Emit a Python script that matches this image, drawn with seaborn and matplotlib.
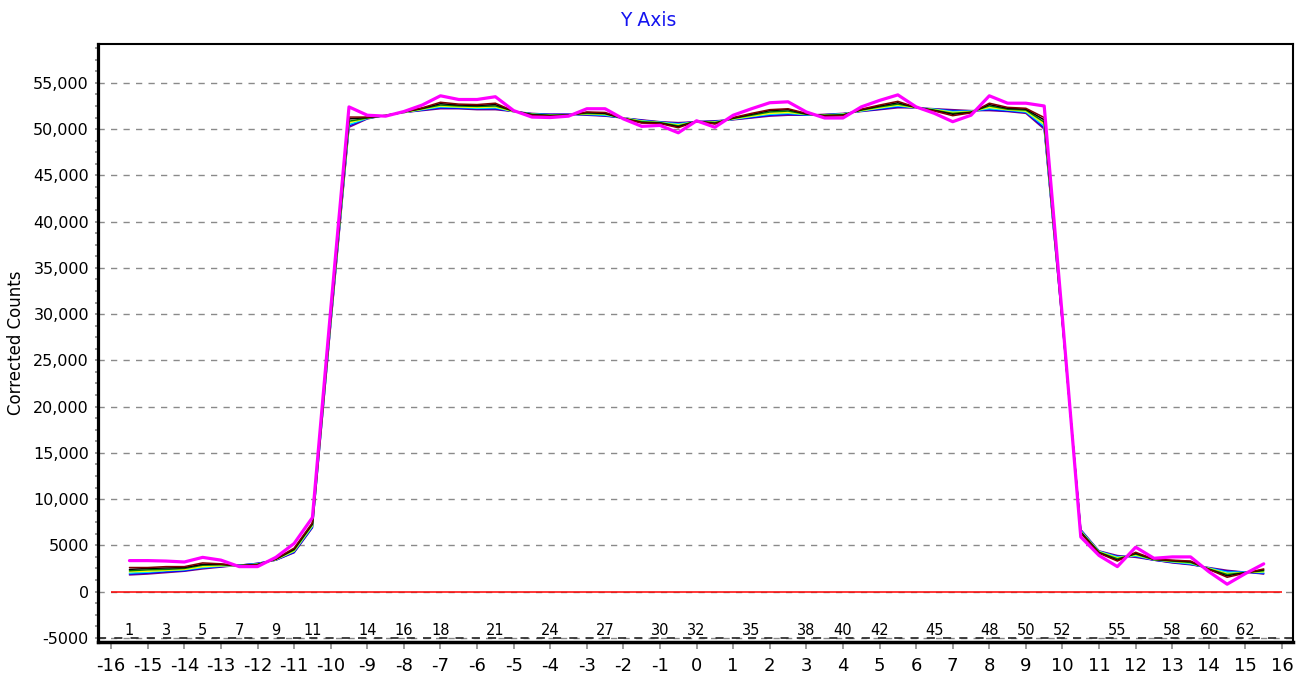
import numpy as np
import pandas as pd
import matplotlib
matplotlib.use("Agg")
import matplotlib.pyplot as plt
import matplotlib.transforms as mtransforms
from matplotlib.ticker import FuncFormatter, MultipleLocator, FixedLocator
import seaborn as sns

# ---------------- data ----------------
channels = list(range(1, 64))
channel_labels = [1, 3, 5, 7, 9, 11, 14, 16, 18, 21, 24, 27, 30, 32, 35, 38,
                  40, 42, 45, 48, 50, 52, 55, 58, 60, 62]
x_ticks = list(range(-16, 17))

purple = [1800, 1900, 2050, 2200, 2450, 2650, 2850, 3050, 3400, 4200,
          6900, 28800, 50200, 51100, 51500, 51800, 52000, 52200, 52200, 52100,
          52100, 51900, 51700, 51600, 51600, 51500, 51400, 51200, 51000, 50800,
          50700, 50800, 50900, 51000, 51200, 51400, 51500, 51500, 51600, 51700,
          51900, 52100, 52300, 52300, 52200, 52100, 52000, 52000, 51900, 51700,
          50000, 28800, 6700, 4400, 3900, 3700, 3400, 3100, 2900, 2600,
          2300, 2100, 1900]
blue = [1900, 2000, 2150, 2250, 2550, 2700, 2850, 3050, 3400, 4250,
        6950, 28900, 50350, 51150, 51500, 51800, 52050, 52300, 52250, 52200,
        52200, 51900, 51650, 51600, 51600, 51550, 51450, 51200, 50950, 50750,
        50600, 50800, 50850, 51050, 51250, 51500, 51600, 51500, 51550, 51650,
        51950, 52150, 52400, 52300, 52150, 52000, 51950, 52100, 51950, 51800,
        50150, 28850, 6650, 4350, 3800, 3800, 3400, 3150, 2950, 2550,
        2200, 2100, 1950]
cyan = [2000, 2100, 2250, 2350, 2600, 2750, 2850, 3000, 3450, 4350,
        7050, 29050, 50500, 51150, 51500, 51800, 52100, 52400, 52350, 52250,
        52300, 51900, 51650, 51550, 51550, 51600, 51500, 51200, 50900, 50750,
        50550, 50800, 50800, 51050, 51350, 51600, 51700, 51550, 51550, 51650,
        51950, 52250, 52500, 52300, 52150, 51900, 51950, 52200, 52050, 51850,
        50350, 28900, 6600, 4350, 3750, 3850, 3450, 3200, 3000, 2550,
        2100, 2100, 2050]
yellow = [2150, 2200, 2300, 2400, 2700, 2800, 2800, 2950, 3450, 4400,
          7150, 29150, 50700, 51200, 51500, 51800, 52150, 52500, 52400, 52350,
          52400, 51900, 51600, 51500, 51550, 51650, 51600, 51200, 50850, 50700,
          50450, 50800, 50750, 51100, 51400, 51700, 51800, 51600, 51500, 51600,
          52000, 52300, 52600, 52300, 52100, 51800, 51900, 52350, 52100, 51950,
          50550, 28950, 6500, 4300, 3650, 3950, 3450, 3250, 3100, 2500,
          1950, 2050, 2150]
green = [2250, 2350, 2400, 2500, 2850, 2900, 2800, 2950, 3500, 4500,
         7250, 29300, 50850, 51200, 51450, 51850, 52200, 52600, 52500, 52450,
         52500, 51950, 51600, 51500, 51550, 51700, 51650, 51150, 50800, 50700,
         50350, 50850, 50700, 51150, 51500, 51850, 51950, 51600, 51500, 51550,
         52050, 52400, 52700, 52350, 52050, 51700, 51850, 52500, 52150, 52050,
         50750, 29000, 6450, 4250, 3550, 4050, 3450, 3300, 3150, 2450,
         1850, 2050, 2250]
black = [2400, 2500, 2550, 2600, 2950, 2950, 2800, 2900, 3500, 4600,
         7350, 29500, 51100, 51250, 51450, 51850, 52250, 52750, 52600, 52550,
         52650, 51950, 51550, 51450, 51500, 51800, 51700, 51150, 50700, 50650,
         50250, 50850, 50600, 51200, 51600, 52000, 52100, 51650, 51450, 51500,
         52100, 52500, 52850, 52350, 52000, 51600, 51800, 52650, 52250, 52150,
         51000, 29100, 6400, 4200, 3400, 4150, 3500, 3350, 3250, 2400,
         1700, 2050, 2350]
maroon = [2600, 2600, 2700, 2700, 3100, 3000, 2800, 2900, 3550, 4700,
          7450, 29650, 51300, 51300, 51450, 51850, 52300, 52900, 52700, 52650,
          52800, 51950, 51500, 51400, 51500, 51850, 51800, 51150, 50650, 50600,
          50150, 50850, 50550, 51250, 51700, 52100, 52200, 51700, 51400, 51450,
          52150, 52600, 53000, 52350, 51950, 51450, 51750, 52800, 52350, 52250,
          51250, 29150, 6300, 4150, 3300, 4250, 3500, 3400, 3300, 2400,
          1550, 2000, 2450]
magenta = [3350, 3350, 3300, 3200, 3700, 3400, 2700, 2700, 3700, 5200,
           8000, 30500, 52400, 51500, 51400, 51900, 52600, 53600, 53200, 53200,
           53500, 52000, 51300, 51250, 51400, 52200, 52200, 51100, 50300, 50400,
           49600, 50900, 50200, 51500, 52200, 52850, 52950, 51850, 51200, 51200,
           52400, 53100, 53700, 52400, 51700, 50800, 51500, 53600, 52800, 52800,
           52500, 29500, 5900, 3900, 2700, 4800, 3600, 3750, 3750, 2150,
           800, 1950, 3000]

series = [("purple", purple), ("blue", blue), ("cyan", cyan), ("yellow", yellow),
          ("green", green), ("black", black), ("maroon", maroon), ("magenta", magenta)]
colors = {"purple": "#800080", "blue": "#0000FF", "cyan": "#00E5EE",
          "yellow": "#FFFF00", "green": "#008000", "black": "#000000",
          "maroon": "#800000", "magenta": "#FF00FF"}
widths = {"purple": 1.1, "blue": 1.1, "cyan": 1.1, "yellow": 1.1,
          "green": 1.1, "black": 1.1, "maroon": 1.1, "magenta": 2.3}

# position (x axis) of each channel: channel 32 at 0, half-unit spacing
positions = [(c - 32) * 0.5 for c in channels]

rows = []
for name, vals in series:
    for p, v in zip(positions, vals):
        rows.append({"position": p, "counts": v, "series": name})
df = pd.DataFrame(rows)

# ---------------- figure ----------------
sns.set_theme(style="white")
plt.rcParams["font.family"] = ["DejaVu Sans"]

fig = plt.figure(figsize=(13.04, 6.78), dpi=100)
ax = fig.add_axes([98 / 1304, 1 - 642 / 678, (1293 - 98) / 1304, (642 - 44) / 678])

grid_kw = dict(color="#8a8a8a", linewidth=1.0, linestyle=(0, (4.5, 4.5)))
ax.set_axisbelow(True)

for i, (name, vals) in enumerate(series):
    sub = df[df["series"] == name]
    sns.lineplot(data=sub, x="position", y="counts", ax=ax, color=colors[name],
                 linewidth=widths[name], estimator=None, sort=False,
                 legend=False, zorder=3 + i)

# zero line
ax.hlines(0, x_ticks[0], x_ticks[-1], color="#FF0000", linewidth=1.1, zorder=2)

ax.set_xlim(-16.36, 16.3)
ax.set_ylim(-5450, 59200)

# x axis: labelled ticks -16..16, grid on -15..15
ax.xaxis.set_major_locator(FixedLocator(x_ticks))
ax.xaxis.set_minor_locator(FixedLocator(x_ticks[1:-1]))
ax.set_xticklabels([str(t) for t in x_ticks])
ax.grid(False)
ax.grid(which="minor", axis="x", **grid_kw)
ax.grid(which="major", axis="y", **grid_kw)

# y axis
ax.yaxis.set_major_locator(MultipleLocator(5000))
ax.yaxis.set_minor_locator(MultipleLocator(1250))


def yfmt(v, _):
    if abs(v) >= 10000:
        return f"{v:,.0f}"
    return f"{v:.0f}"


ax.yaxis.set_major_formatter(FuncFormatter(yfmt))

ax.tick_params(axis="x", which="major", direction="out", length=5, width=1.2,
               color="#8a8a8a", labelsize=13, pad=6, bottom=True, labelcolor="black")
ax.tick_params(axis="x", which="minor", length=0)
ax.tick_params(axis="y", which="major", direction="out", length=2.5, width=1.2,
               color="#8a8a8a", labelsize=11.5, pad=4, left=True, labelcolor="black")
ax.tick_params(axis="y", which="minor", direction="out", length=2, width=1.2,
               color="#8a8a8a", left=True)

# darker dashed baseline of the channel scale
ax.axhline(-5000, color="#333333", linewidth=1.3, linestyle=(0, (4.5, 4.5)), zorder=2)

# channel number labels inside the plot
trans = mtransforms.blended_transform_factory(ax.transData, ax.transAxes)
for ch in channel_labels:
    ax.text((ch - 32) * 0.5, 0.0184, str(ch), transform=trans, ha="center",
            va="center", fontsize=10.5, color="black", zorder=10)

for side, lw in [("left", 2.3), ("bottom", 2.5), ("top", 1.5), ("right", 1.5)]:
    ax.spines[side].set_visible(True)
    ax.spines[side].set_color("black")
    ax.spines[side].set_linewidth(lw)

ax.set_xlabel("")
ax.set_ylabel("")
fig.text(16 / 1304, 1 - 343 / 678, "Corrected Counts", rotation=90,
         fontsize=12, color="black", ha="center", va="center")

fig.text(0.497, 0.970, "Y Axis", color="#1414F0", fontsize=13.5,
         ha="center", va="center")

fig.savefig("out.png", dpi=100)
